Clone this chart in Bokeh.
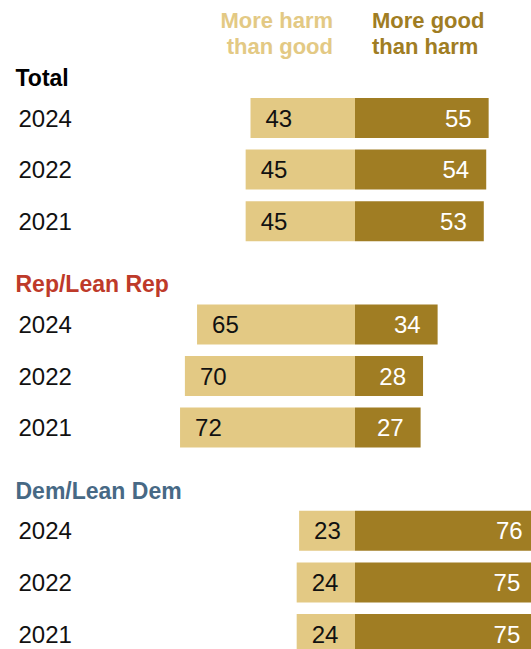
from bokeh.plotting import figure
from bokeh.models import ColumnDataSource, Range1d
from bokeh.core.properties import value
from bokeh.embed import file_html
from bokeh.resources import INLINE

groups = ["Total", "Rep/Lean Rep", "Dem/Lean Dem"]
group_colors = ["#000000", "#BE3A2A", "#476985"]
years = ["2024", "2022", "2021"]
harm = [43, 45, 45, 65, 70, 72, 23, 24, 24]
good = [55, 54, 53, 34, 28, 27, 76, 75, 75]
headers = ["More harm\nthan good", "More good\nthan harm"]

LIGHT = "#E3C984"
DARK = "#A07D23"
FONT = "Liberation Sans"

W, H = 531, 649
PX_PER_UNIT = 2.43
ZERO_PX = 354.5
ROW0_PX = 117.5
PITCH = 51.6

x_start = -ZERO_PX / PX_PER_UNIT
x_end = x_start + W / PX_PER_UNIT
y_top = -ROW0_PX / PITCH
y_bot = y_top + H / PITCH

rows = []
row_years = []
for gi, g in enumerate(groups):
    for yi, yr in enumerate(years):
        rows.append(gi * 4 + yi)
        row_years.append(yr)

src = ColumnDataSource(dict(
    y=rows,
    year=row_years,
    harm_left=[-v for v in harm],
    good=good,
    harm_txt=[str(v) for v in harm],
    good_txt=[str(v) for v in good],
    zero=[0] * len(rows),
    xlab=[x_start] * len(rows),
))

p = figure(width=W, height=H, output_backend="svg", toolbar_location=None,
           x_range=Range1d(x_start, x_end), y_range=Range1d(y_bot, y_top),
           min_border=0, min_border_left=0, min_border_right=0,
           min_border_top=0, min_border_bottom=0)
p.axis.visible = False
p.grid.visible = False
p.outline_line_color = None
p.background_fill_color = "white"
p.border_fill_color = "white"

BH = 40 / PITCH
p.hbar(y="y", left="harm_left", right="zero", height=BH, source=src,
       fill_color=LIGHT, line_color=None)
p.hbar(y="y", left="zero", right="good", height=BH, source=src,
       fill_color=DARK, line_color=None)

p.text(x="harm_left", y="y", text="harm_txt", source=src, x_offset=15,
       text_align="left", text_baseline="middle", text_color="#111111",
       text_font=value(FONT), text_font_size="24px")
p.text(x="good", y="y", text="good_txt", source=src, x_offset=-17,
       text_align="right", text_baseline="middle", text_color="#FFFFFF",
       text_font=value(FONT), text_font_size="24px")
p.text(x="xlab", y="y", text="year", source=src, x_offset=18,
       text_align="left", text_baseline="middle", text_color="#111111",
       text_font=value(FONT), text_font_size="24px")

# group labels
gsrc = ColumnDataSource(dict(
    x=[x_start] * len(groups),
    y=[gi * 4 - 0.775 for gi in range(len(groups))],
    t=groups,
    c=group_colors,
))
p.text(x="x", y="y", text="t", text_color="c", source=gsrc, x_offset=15,
       text_align="left", text_baseline="alphabetic",
       text_font=value(FONT), text_font_style="bold", text_font_size="23px")

# column headers
h_lines = [h.split("\n") for h in headers]
hx, hy, ht, hc, ha, ho = [], [], [], [], [], []
for i, lines in enumerate(h_lines):
    for li, line in enumerate(lines):
        hx.append(0)
        hy.append(-1.89 + li * 0.505)
        ht.append(line)
        hc.append(LIGHT if i == 0 else DARK)
        ha.append("right" if i == 0 else "left")
        ho.append(-22 if i == 0 else 17)
hsrc = ColumnDataSource(dict(x=hx, y=hy, t=ht, c=hc, a=ha, o=ho))
p.text(x="x", y="y", text="t", text_color="c", text_align="a", x_offset="o",
       source=hsrc, text_baseline="alphabetic",
       text_font=value(FONT), text_font_style="bold", text_font_size="22px")

open("out.html", "w").write(file_html(p, INLINE))
